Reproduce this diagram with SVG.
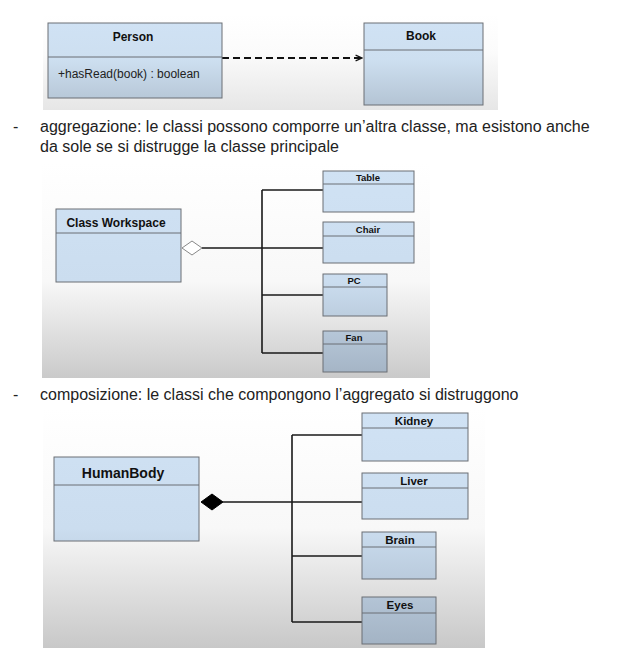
<svg xmlns="http://www.w3.org/2000/svg" width="633" height="660" viewBox="0 0 633 660">
<style>
.body{font-family:"Liberation Sans",Arial,sans-serif;font-size:16px;fill:#222}
.t{font-family:"Liberation Sans",Arial,sans-serif;font-weight:bold;fill:#111;text-anchor:middle}
.m{font-family:"Liberation Sans",Arial,sans-serif;fill:#222}
.box{stroke:#6b6f74;stroke-width:1}
.div{stroke:#6b6f74;stroke-width:1}
.c{stroke:#1a1a1a;stroke-width:1.6;fill:none}
</style>
<defs>
<linearGradient id="bg1" gradientUnits="userSpaceOnUse" x1="0" y1="14" x2="0" y2="110">
<stop offset="0" stop-color="#ffffff"/><stop offset="0.4" stop-color="#fbfbfb"/><stop offset="1" stop-color="#e6e6e6"/>
</linearGradient>
<linearGradient id="bx1" gradientUnits="userSpaceOnUse" x1="0" y1="23" x2="0" y2="105">
<stop offset="0" stop-color="#d0e2f4"/><stop offset="0.45" stop-color="#cddff0"/><stop offset="1" stop-color="#b4c4d4"/>
</linearGradient>
<linearGradient id="bg2" gradientUnits="userSpaceOnUse" x1="0" y1="163" x2="0" y2="378">
<stop offset="0" stop-color="#ffffff"/><stop offset="0.55" stop-color="#f8f8f8"/><stop offset="1" stop-color="#cacaca"/>
</linearGradient>
<linearGradient id="bx2" gradientUnits="userSpaceOnUse" x1="0" y1="170" x2="0" y2="372">
<stop offset="0" stop-color="#d0e2f4"/><stop offset="0.55" stop-color="#cbddef"/><stop offset="1" stop-color="#a5b5c6"/>
</linearGradient>
<linearGradient id="bg3" gradientUnits="userSpaceOnUse" x1="0" y1="408" x2="0" y2="648">
<stop offset="0" stop-color="#ffffff"/><stop offset="0.5" stop-color="#f8f8f8"/><stop offset="1" stop-color="#c8c8c8"/>
</linearGradient>
<linearGradient id="bx3" gradientUnits="userSpaceOnUse" x1="0" y1="412" x2="0" y2="645">
<stop offset="0" stop-color="#d0e2f4"/><stop offset="0.5" stop-color="#cbddef"/><stop offset="1" stop-color="#a3b3c4"/>
</linearGradient>
<marker id="open" viewBox="0 0 10 10" refX="9" refY="5" markerWidth="8" markerHeight="8" orient="auto" markerUnits="userSpaceOnUse">
<path d="M1,1.5 L9,5 L1,8.5" fill="none" stroke="#111" stroke-width="1.6"/>
</marker>
</defs>

<!-- backgrounds -->
<rect x="43" y="14" width="455" height="96" fill="url(#bg1)"/>
<rect x="42" y="163" width="388" height="215" fill="url(#bg2)"/>
<rect x="43" y="408" width="442" height="240" fill="url(#bg3)"/>

<!-- texts -->
<g id="text-aggregazione">
<text class="body" x="13" y="132">-</text>
<text class="body" x="40" y="132">aggregazione: le classi possono comporre un’altra classe, ma esistono anche</text>
<text class="body" x="40" y="152">da sole se si distrugge la classe principale</text>
</g>
<g id="text-composizione">
<text class="body" x="13" y="400">-</text>
<text class="body" x="40" y="400">composizione: le classi che compongono l’aggregato si distruggono</text>
</g>

<!-- connectors -->
<g id="connectors">
<line x1="222" y1="58" x2="362" y2="58" stroke="#111" stroke-width="1.8" stroke-dasharray="7,4" marker-end="url(#open)"/>
<polygon points="182,248 192,241 202,248 192,255" fill="#ffffff" stroke="#888" stroke-width="1"/>
<path class="c" d="M202,248 H262 M262,190 V353 M262,190 H323 M262,248 H323 M262,295 H323 M262,353 H323"/>
<polygon points="201,502 212,494 223,502 212,510" fill="#000" stroke="#000" stroke-width="1"/>
<path class="c" d="M223,502 H292 M292,435 V622 M292,435 H362 M292,502 H362 M292,556 H362 M292,622 H362"/>
</g>

<!-- panel 1 -->
<g id="person">
<rect class="box" x="48" y="23" width="174" height="75" fill="url(#bx1)"/>
<line class="div" x1="48" y1="57" x2="222" y2="57"/>
<text class="t" x="133" y="41" font-size="12">Person</text>
<text class="m" x="58" y="78" font-size="12">+hasRead(book) : boolean</text>
</g>
<g id="book">
<rect class="box" x="364" y="23" width="119" height="82" fill="url(#bx1)"/>
<line class="div" x1="364" y1="50" x2="483" y2="50"/>
<text class="t" x="421" y="40" font-size="12">Book</text>
</g>

<!-- panel 2 -->
<g id="workspace">
<rect class="box" x="56" y="209" width="125" height="73" fill="url(#bx2)"/>
<line class="div" x1="56" y1="233" x2="181" y2="233"/>
<text class="t" x="116" y="227" font-size="12">Class Workspace</text>
</g>
<g id="table">
<rect class="box" x="323" y="171" width="91" height="41" fill="url(#bx2)"/>
<line class="div" x1="323" y1="184" x2="414" y2="184"/>
<text class="t" x="368" y="181" font-size="9.5">Table</text>
</g>
<g id="chair">
<rect class="box" x="323" y="222" width="91" height="41" fill="url(#bx2)"/>
<line class="div" x1="323" y1="236" x2="414" y2="236"/>
<text class="t" x="368" y="233" font-size="9.5">Chair</text>
</g>
<g id="pc">
<rect class="box" x="323" y="274" width="64" height="42" fill="url(#bx2)"/>
<line class="div" x1="323" y1="287" x2="387" y2="287"/>
<text class="t" x="354" y="284" font-size="9.5">PC</text>
</g>
<g id="fan">
<rect class="box" x="323" y="331" width="64" height="41" fill="url(#bx2)"/>
<line class="div" x1="323" y1="344" x2="387" y2="344"/>
<text class="t" x="354" y="341" font-size="9.5">Fan</text>
</g>

<!-- panel 3 -->
<g id="humanbody">
<rect class="box" x="54" y="457" width="145" height="84" fill="url(#bx3)"/>
<line class="div" x1="54" y1="485" x2="199" y2="485"/>
<text class="t" x="123" y="478" font-size="14">HumanBody</text>
</g>
<g id="kidney">
<rect class="box" x="362" y="413" width="106" height="48" fill="url(#bx3)"/>
<line class="div" x1="362" y1="428" x2="468" y2="428"/>
<text class="t" x="414" y="425" font-size="11.5">Kidney</text>
</g>
<g id="liver">
<rect class="box" x="362" y="473" width="106" height="46" fill="url(#bx3)"/>
<line class="div" x1="362" y1="488" x2="468" y2="488"/>
<text class="t" x="414" y="485" font-size="11.5">Liver</text>
</g>
<g id="brain">
<rect class="box" x="362" y="532" width="74" height="47" fill="url(#bx3)"/>
<line class="div" x1="362" y1="547" x2="436" y2="547"/>
<text class="t" x="400" y="544" font-size="11.5">Brain</text>
</g>
<g id="eyes">
<rect class="box" x="362" y="597" width="74" height="47" fill="url(#bx3)"/>
<line class="div" x1="362" y1="613" x2="436" y2="613"/>
<text class="t" x="400" y="609" font-size="11.5">Eyes</text>
</g>
</svg>
